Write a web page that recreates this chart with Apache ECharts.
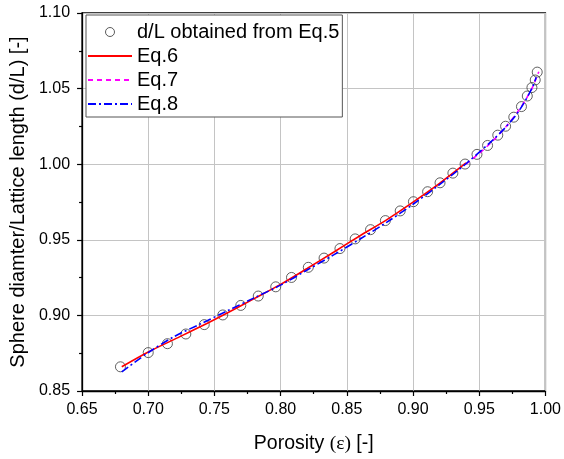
<!DOCTYPE html>
<html>
<head>
<meta charset="utf-8">
<script src="https://cdn.jsdelivr.net/npm/echarts@6/dist/echarts.min.js"></script>
<style>
html,body{margin:0;padding:0;background:#fff;}
#chart{width:564px;height:459px;}
</style>
</head>
<body>
<div id="chart"></div>
<script>
// Scatter: d/L obtained from Eq.5
const porosity = [0.679,0.700,0.7145,0.7284,0.7423,0.7563,0.7699,0.7831,0.7963,0.8082,0.8209,0.8328,0.8448,0.8563,0.8679,0.8791,0.8903,0.9003,0.9110,0.9204,0.9301,0.9393,0.9483,0.9563,0.9640,0.9699,0.9761,0.9819,0.9863,0.9898,0.9923,0.9938];
const dL = [0.8660,0.8754,0.8813,0.8877,0.8939,0.9003,0.9066,0.9128,0.9189,0.9251,0.9318,0.9379,0.9442,0.9506,0.9567,0.9627,0.9691,0.9752,0.9818,0.9877,0.9941,1.0001,1.0065,1.0124,1.0192,1.0251,1.0311,1.0381,1.0451,1.0507,1.0557,1.0609];
// Eq.6
const eq6X = [0.68,0.70,0.72,0.74,0.76,0.78,0.80,0.82,0.84,0.86,0.88,0.90,0.92,0.94];
const eq6Y = [0.8660,0.8758,0.8843,0.8928,0.9018,0.9111,0.9205,0.9310,0.9418,0.9527,0.9632,0.9749,0.9873,1.0008];
// Eq.7
const eq7X = [0.94,0.95,0.96,0.97,0.98,0.985,0.99,0.995];
const eq7Y = [1.0000,1.0072,1.0152,1.0246,1.0358,1.0425,1.0505,1.0612];
// Eq.8
const eq8X = [0.68,0.70,0.72,0.74,0.76,0.78,0.80,0.82,0.84,0.86,0.88,0.90,0.92,0.94,0.96,0.97,0.98,0.99,0.993];
const eq8Y = [0.8627,0.8754,0.8862,0.8946,0.9031,0.9116,0.9200,0.9300,0.9400,0.9505,0.9615,0.9735,0.9865,1.0003,1.0158,1.0245,1.0352,1.0505,1.0575];

const names = ['d/L obtained from Eq.5','Eq.6','Eq.7','Eq.8'];
const xTicks = {min:0.65, max:1.00, interval:0.05};
const yTicks = {min:0.85, max:1.10, interval:0.05};

const zip = (a,b) => a.map((v,i)=>[v,b[i]]);
const font = 'Liberation Sans, Arial, sans-serif';
const hidden = {color:'rgba(0,0,0,0)', borderColor:'rgba(0,0,0,0)', borderWidth:0};

const chart = echarts.init(document.getElementById('chart'), null, {renderer:'canvas'});
chart.setOption({
  animation:false,
  backgroundColor:'#fff',
  grid:{left:80, right:15, top:13, bottom:66, show:true, borderColor:'#000', borderWidth:1.3, backgroundColor:'transparent'},
  legend:{
    data:[
      {name:names[0], itemStyle:{color:'rgba(0,0,0,0)', borderColor:'#333', borderWidth:1}},
      {name:names[1], itemStyle:hidden},
      {name:names[2], itemStyle:hidden},
      {name:names[3], itemStyle:hidden}
    ],
    orient:'vertical',
    left:86, top:15,
    padding:[7,3,3,1],
    itemWidth:44, itemHeight:9, itemGap:4,
    backgroundColor:'#fff',
    borderColor:'#555', borderWidth:1, borderRadius:0,
    textStyle:{fontFamily:font, fontSize:20, color:'#000'}
  },
  xAxis:{
    type:'value', min:xTicks.min, max:xTicks.max, interval:xTicks.interval,
    name:'Porosity {s|(ε)} [-]', nameLocation:'middle', nameGap:43,
    nameTextStyle:{fontFamily:font, fontSize:19.5, color:'#000', rich:{s:{fontFamily:'Liberation Serif, Times New Roman, serif', fontSize:19.5, color:'#000'}}},
    axisLine:{show:true, lineStyle:{color:'#000', width:1.3}},
    axisTick:{show:true, inside:false, length:5, lineStyle:{color:'#000', width:1.2}},
    minorTick:{show:true, splitNumber:2, length:3, lineStyle:{color:'#000', width:1.2}},
    axisLabel:{margin:11, fontFamily:font, fontSize:16, color:'#000', formatter:v=>v.toFixed(2)},
    splitLine:{show:true, lineStyle:{color:'#c4c4c4', width:1}}
  },
  yAxis:{
    type:'value', min:yTicks.min, max:yTicks.max, interval:yTicks.interval,
    name:'Sphere diamter/Lattice length (d/L) [-]', nameLocation:'middle', nameGap:51, nameRotate:90,
    nameTextStyle:{fontFamily:font, fontSize:20, color:'#000'},
    axisLine:{show:true, lineStyle:{color:'#000', width:1.3}},
    axisTick:{show:true, inside:false, length:5, lineStyle:{color:'#000', width:1.2}},
    minorTick:{show:true, splitNumber:2, length:3, lineStyle:{color:'#000', width:1.2}},
    axisLabel:{margin:12, fontFamily:font, fontSize:16, color:'#000', formatter:v=>v.toFixed(2)},
    splitLine:{show:true, lineStyle:{color:'#c4c4c4', width:1}}
  },
  series:[
    {name:names[0], type:'scatter', data:zip(porosity,dL), symbol:'circle', symbolSize:10,
     itemStyle:{color:'rgba(0,0,0,0)', borderColor:'#3a3a3a', borderWidth:1}, z:2},
    {name:names[1], type:'line', data:zip(eq6X,eq6Y), showSymbol:false, symbol:'none', smooth:0.3,
     lineStyle:{color:'#ff0000', width:1.6, type:'solid'}, itemStyle:{color:'#ff0000'}, z:3},
    {name:names[2], type:'line', data:zip(eq7X,eq7Y), showSymbol:false, symbol:'none', smooth:0.3,
     lineStyle:{color:'#ff00ff', width:1.6, type:[5,4]}, itemStyle:{color:'#ff00ff'}, z:4},
    {name:names[3], type:'line', data:zip(eq8X,eq8Y), showSymbol:false, symbol:'none', smooth:0.3,
     lineStyle:{color:'#0000ff', width:1.6, type:[8,3,2,3]}, itemStyle:{color:'#0000ff'}, z:5}
  ]
});
</script>
</body>
</html>
